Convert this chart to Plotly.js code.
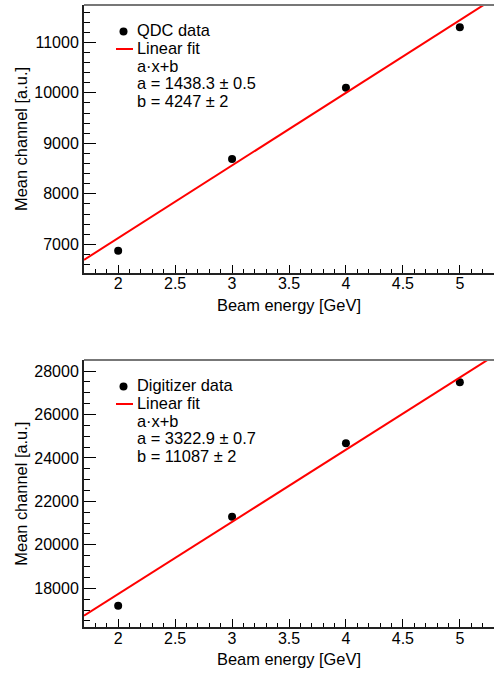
<!DOCTYPE html>
<html>
<head>
<meta charset="utf-8">
<script src="https://cdn.plot.ly/plotly-3.0.1.min.js"></script>
<style>html,body{margin:0;padding:0;background:#fff;}#chart{width:494px;height:674px;}</style>
</head>
<body>
<div id="chart"></div>
<script>
// ---- data ----
var beamEnergy = [2, 3, 4, 5];
var qdcMean = [6873, 8689, 10101, 11297];
var digitizerMean = [17199, 21295, 24673, 27480];
var fitX = [1.7, 5.3];
var qdcFitY = [6692, 11870];
var digitizerFitY = [16736, 28698];
var qdcLegend = ["QDC data", "Linear fit", "a\u00b7x+b", "a = 1438.3 \u00b1 0.5", "b = 4247 \u00b1 2"];
var digiLegend = ["Digitizer data", "Linear fit", "a\u00b7x+b", "a = 3322.9 \u00b1 0.7", "b = 11087 \u00b1 2"];
var xTitle = "Beam energy [GeV]";
var yTitle = "Mean channel [a.u.]";

// ---- layout helpers ----
var W = 494, H = 674;
function px(x) { return x / W; }
function py(y) { return 1 - y / H; }
var FONT = "Liberation Sans, Arial, Helvetica, sans-serif";

var traces = [
  {x: beamEnergy, y: qdcMean, type: 'scatter', mode: 'markers', xaxis: 'x', yaxis: 'y',
   marker: {color: '#000', size: 8}, name: qdcLegend[0], showlegend: false},
  {x: fitX, y: qdcFitY, type: 'scatter', mode: 'lines', xaxis: 'x', yaxis: 'y',
   line: {color: '#ff0000', width: 2}, name: qdcLegend[1], showlegend: false},
  {x: beamEnergy, y: digitizerMean, type: 'scatter', mode: 'markers', xaxis: 'x2', yaxis: 'y2',
   marker: {color: '#000', size: 8}, name: digiLegend[0], showlegend: false},
  {x: fitX, y: digitizerFitY, type: 'scatter', mode: 'lines', xaxis: 'x2', yaxis: 'y2',
   line: {color: '#ff0000', width: 2}, name: digiLegend[1], showlegend: false}
];

var plots = [
  {top: 5, bottom: 273, yr: [6432, 11739], dt: 1000, mdt: 200, legend: qdcLegend},
  {top: 360, bottom: 627.3, yr: [16205, 28506], dt: 2000, mdt: 500, legend: digiLegend}
];

function xaxisDef(anchor, p) {
  return {
    domain: [px(84), 1], anchor: anchor, range: [1.7, 5.3],
    showline: true, linecolor: '#222', linewidth: 2, mirror: false,
    showgrid: false, zeroline: false,
    ticks: 'inside', ticklen: 8, tickwidth: 1, tickcolor: '#000', dtick: 0.5, tick0: 0,
    ticklabelstandoff: -5,
    minor: {dtick: 0.1, tick0: 0, ticks: 'inside', ticklen: 4, tickwidth: 1, tickcolor: '#000', showgrid: false},
    tickfont: {family: FONT, size: 16, color: '#000'},
    title: {text: xTitle, font: {family: FONT, size: 16.4, color: '#000'}, standoff: 8},
    automargin: false, fixedrange: true
  };
}
function yaxisDef(anchor, p) {
  return {
    domain: [py(p.bottom), py(p.top)], anchor: anchor, range: p.yr,
    showline: true, linecolor: '#222', linewidth: 2, mirror: false,
    showgrid: false, zeroline: false,
    ticks: 'inside', ticklen: 12, tickwidth: 1, tickcolor: '#000', dtick: p.dt, tick0: 0,
    tickformat: 'd', ticklabelstandoff: 0,
    minor: {dtick: p.mdt, tick0: 0, ticks: 'inside', ticklen: 6, tickwidth: 1, tickcolor: '#000', showgrid: false},
    tickfont: {family: FONT, size: 16, color: '#000'},
    title: {text: yTitle, font: {family: FONT, size: 16.4, color: '#000'}, standoff: 3},
    automargin: false, fixedrange: true
  };
}

var shapes = [], annotations = [];
var legendOffsets = [24.7, 42.9, 60.5, 78.0, 95.5];
plots.forEach(function (p) {
  // grey top frame line
  shapes.push({type: 'line', xref: 'paper', yref: 'paper', x0: px(84), x1: 1, y0: py(p.top), y1: py(p.top),
               line: {color: '#777', width: 2}});
  // legend symbols
  var ym = p.top + 26.5;
  shapes.push({type: 'circle', xref: 'paper', yref: 'paper', x0: px(119.5), x1: px(127.5),
               y0: py(ym + 4), y1: py(ym - 4), fillcolor: '#000', line: {width: 0}});
  var yl = p.top + 44;
  shapes.push({type: 'line', xref: 'paper', yref: 'paper', x0: px(116), x1: px(133), y0: py(yl), y1: py(yl),
               line: {color: '#ff0000', width: 2}});
  p.legend.forEach(function (t, i) {
    annotations.push({text: t, xref: 'paper', yref: 'paper', x: px(135), y: py(p.top + legendOffsets[i]),
                      xanchor: 'left', yanchor: 'middle', showarrow: false,
                      font: {family: FONT, size: 16.4, color: '#000'}});
  });
});

var layout = {
  width: W, height: H,
  margin: {l: 0, r: 0, t: 0, b: 0},
  paper_bgcolor: '#fff', plot_bgcolor: '#fff',
  showlegend: false,
  xaxis: xaxisDef('y', plots[0]), yaxis: yaxisDef('x', plots[0]),
  xaxis2: xaxisDef('y2', plots[1]), yaxis2: yaxisDef('x2', plots[1]),
  shapes: shapes, annotations: annotations
};

Plotly.newPlot('chart', traces, layout, {displayModeBar: false, staticPlot: true});
</script>
</body>
</html>
